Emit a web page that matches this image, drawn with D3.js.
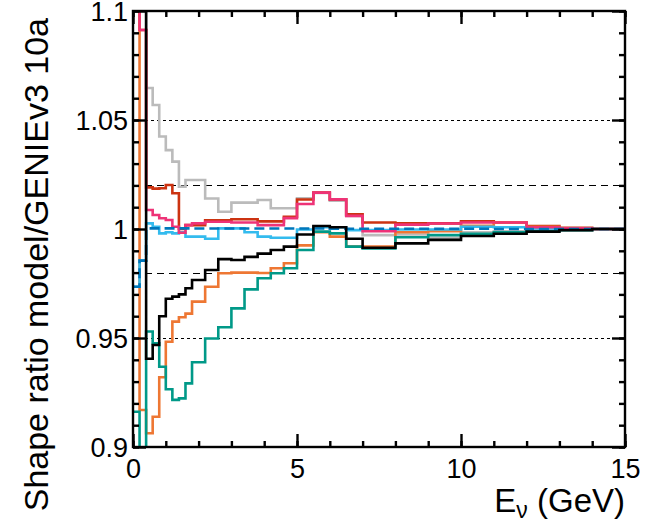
<!DOCTYPE html>
<html>
<head>
<meta charset="utf-8">
<script src="https://cdn.jsdelivr.net/npm/d3@7"></script>
<style>
html,body{margin:0;padding:0;background:#fff;}
svg{display:block;}
text{font-family:"Liberation Sans",Arial,Helvetica,sans-serif;fill:#000;}
</style>
</head>
<body>
<svg id="chart" width="654" height="525"></svg>
<script>
// Bin edges (GeV)
const binEdges = [0,0.2,0.4,0.6,0.8,1.0,1.2,1.4,1.6,1.8,2.2,2.6,3.0,3.4,3.8,4.2,4.6,5.0,5.5,6.0,6.5,7.0,8,9,10,11,12,13,14,15];

// Series values (one per bin)
const grayVals   = [1.2,1.2,1.0647,1.0569,1.0424,1.0362,1.0309,1.0194,1.0225,1.0225,1.0140,1.0079,1.0121,1.0121,1.0133,1.0095,1.0095,1.0141,1.0165,1.0130,1.0060,0.9972,0.9975,0.9960,0.9985,0.9990,0.9995,0.9998,1.0];
const redVals    = [1.2,1.0913,1.0191,1.0185,1.0187,1.0202,1.0164,1.0000,1.0018,1.0018,1.0040,1.0040,1.0045,1.0045,1.0035,1.0035,1.0056,1.0135,1.0167,1.0136,1.0067,1.0030,1.0026,1.0026,1.0035,1.0030,1.0014,1.0005,1.0];
const orangeVals = [1.2,0.9170,0.9063,0.9139,0.9320,0.9483,0.9575,0.9595,0.9612,0.9667,0.9735,0.9797,0.9800,0.9800,0.9798,0.9820,0.9843,0.9925,0.9985,0.9965,0.9919,0.9920,0.9985,0.9990,1.0015,1.0030,1.0010,1.0003,1.0];
const tealVals   = [0.9162,0.85,0.9530,0.9476,0.9368,0.9265,0.9216,0.9223,0.9292,0.9389,0.9498,0.9549,0.9636,0.9723,0.9774,0.9797,0.9820,0.9904,0.9988,0.9980,0.9919,0.9911,0.9962,0.9972,0.9978,0.9985,0.9990,0.9995,1.0];
const cyanVals   = [0.9735,0.9855,1.0026,1.0010,0.9980,0.9985,0.9980,0.9985,0.9965,0.9965,0.9955,1.0003,1.0003,0.9985,0.9965,0.9960,0.9960,0.9998,1.0008,1.0008,0.9995,0.9995,0.9998,0.9998,1.0010,1.0008,1.0003,1.0001,1.0];
const magentaVals= [1.2,1.0913,1.0087,1.0064,1.0049,1.0041,1.0010,0.9983,1.0018,1.0026,1.0033,1.0033,1.0030,1.0030,1.0018,1.0018,1.0050,1.0115,1.0167,1.0136,1.0060,0.9990,1.0020,1.0025,1.0030,1.0030,1.0008,1.0003,1.0];
const blueVals   = [0.9735,0.9855,1.0003,1.0003,1.0003,1.0003,1.0003,1.0003,1.0003,1.0002,1.0002,1.0002,1.0002,1.0002,1.0002,1.0002,1.0002,1.0002,1.0002,1.0001,1.0001,1.0001,1.0001,1.0001,1.0001,1.0,1.0,1.0,1.0];
const blackVals  = [1.2,1.2,0.9405,0.9468,0.9600,0.9680,0.9690,0.9700,0.9728,0.9766,0.9812,0.9862,0.9858,0.9872,0.9887,0.9904,0.9919,0.9975,1.0014,1.0008,0.9955,0.9914,0.9934,0.9950,0.9968,0.9978,0.9988,0.9995,1.0];

// Tick labels
const xMajorTicks = [0,5,10,15];
const xTickLabels = ["0","5","10","15"];
const yMajorTicks = [0.9,0.95,1.0,1.05,1.1];
const yTickLabels = ["0.9","0.95","1","1.05","1.1"];
const refLines = [1.05,1.02,0.98,0.95];
const xTitle = "E";
const xTitleSub = "ν";
const xTitleRest = " (GeV)";
const yTitle = "Shape ratio model/GENIEv3 10a";

const series = [
  {vals: grayVals,    color: "#BBBBBB", dash: null},
  {vals: redVals,     color: "#CC3311", dash: null},
  {vals: orangeVals,  color: "#EE7733", dash: null},
  {vals: tealVals,    color: "#009988", dash: null},
  {vals: cyanVals,    color: "#33BBEE", dash: null},
  {vals: magentaVals, color: "#EE3377", dash: null},
  {vals: blueVals,    color: "#0077BB", dash: "10,5"},
  {vals: blackVals,   color: "#000000", dash: null}
];

const L = 133, R = 625, T = 11, B = 447;
const svg = d3.select("#chart");
const x = d3.scaleLinear().domain([0,15]).range([L,R]);
const y = d3.scaleLinear().domain([0.9,1.1]).range([B,T]);

svg.append("defs").append("clipPath").attr("id","plotclip")
  .append("rect").attr("x",L).attr("y",T).attr("width",R-L).attr("height",B-T);

// reference lines
const refG = svg.append("g");
refLines.forEach(v => {
  const dotted = Math.abs(v-1.05)<1e-6 || Math.abs(v-0.95)<1e-6;
  const yy = Math.round(y(v)) + 0.5;
  refG.append("line")
    .attr("x1",L).attr("x2",R).attr("y1",yy).attr("y2",yy)
    .attr("stroke","#000").attr("stroke-width",1.1)
    .attr("stroke-dasharray", dotted ? "3,3" : "7,5");
});

// histograms
const line = d3.line().x(d=>x(d[0])).y(d=>y(d[1])).curve(d3.curveStepAfter);
const hG = svg.append("g").attr("clip-path","url(#plotclip)");
series.forEach(s => {
  const pts = s.vals.map((v,i)=>[binEdges[i],v]);
  pts.push([binEdges[binEdges.length-1], s.vals[s.vals.length-1]]);
  hG.append("path").attr("d", line(pts))
    .attr("fill","none").attr("stroke",s.color).attr("stroke-width",2.6)
    .attr("stroke-dasharray", s.dash);
});

// axes
function styleAxis(g){
  g.select(".domain").remove();
  g.selectAll(".tick line").attr("stroke","#000").attr("stroke-width",2.4);
}
const xMinor = d3.range(0,15.001,1);
const yMinor = d3.range(0,21).map(i=>+(0.9+i*0.01).toFixed(3));

svg.append("g").attr("transform",`translate(0,${B})`)
  .call(d3.axisBottom(x).tickValues(xMinor).tickSize(-6).tickFormat(""))
  .call(styleAxis);
const xb = svg.append("g").attr("transform",`translate(0,${B})`)
  .call(d3.axisBottom(x).tickValues(xMajorTicks).tickSize(-13).tickPadding(0)
    .tickFormat((d,i)=>xTickLabels[i]))
  .call(styleAxis);
xb.selectAll(".tick text").attr("font-size",27).attr("dy",null).attr("y",31)
  .attr("font-family",'"Liberation Sans",Arial,sans-serif');

svg.append("g").attr("transform",`translate(0,${T})`)
  .call(d3.axisTop(x).tickValues(xMinor).tickSize(-6).tickFormat(""))
  .call(styleAxis);
svg.append("g").attr("transform",`translate(0,${T})`)
  .call(d3.axisTop(x).tickValues(xMajorTicks).tickSize(-13).tickFormat(""))
  .call(styleAxis);

svg.append("g").attr("transform",`translate(${L},0)`)
  .call(d3.axisLeft(y).tickValues(yMinor).tickSize(-6).tickFormat(""))
  .call(styleAxis);
const yl = svg.append("g").attr("transform",`translate(${L},0)`)
  .call(d3.axisLeft(y).tickValues(yMajorTicks).tickSize(-13).tickPadding(0)
    .tickFormat((d,i)=>yTickLabels[i]))
  .call(styleAxis);
yl.selectAll(".tick text").attr("font-size",27).attr("x",-5).attr("dy","0.36em")
  .attr("font-family",'"Liberation Sans",Arial,sans-serif');

svg.append("g").attr("transform",`translate(${R},0)`)
  .call(d3.axisRight(y).tickValues(yMinor).tickSize(-6).tickFormat(""))
  .call(styleAxis);
svg.append("g").attr("transform",`translate(${R},0)`)
  .call(d3.axisRight(y).tickValues(yMajorTicks).tickSize(-13).tickFormat(""))
  .call(styleAxis);

// frame
svg.append("rect").attr("x",L).attr("y",T).attr("width",R-L).attr("height",B-T)
  .attr("fill","none").attr("stroke","#000").attr("stroke-width",2.4);

// titles
const xt = svg.append("text").attr("x",R).attr("y",512).attr("text-anchor","end")
  .attr("font-size",33);
xt.append("tspan").text(xTitle);
xt.append("tspan").attr("font-size",23).attr("dy",6).text(xTitleSub);
xt.append("tspan").attr("dy",-6).text(xTitleRest);

svg.append("text").attr("transform","translate(48,18) rotate(-90)")
  .attr("text-anchor","end").attr("font-size",34).text(yTitle);
</script>
</body>
</html>
